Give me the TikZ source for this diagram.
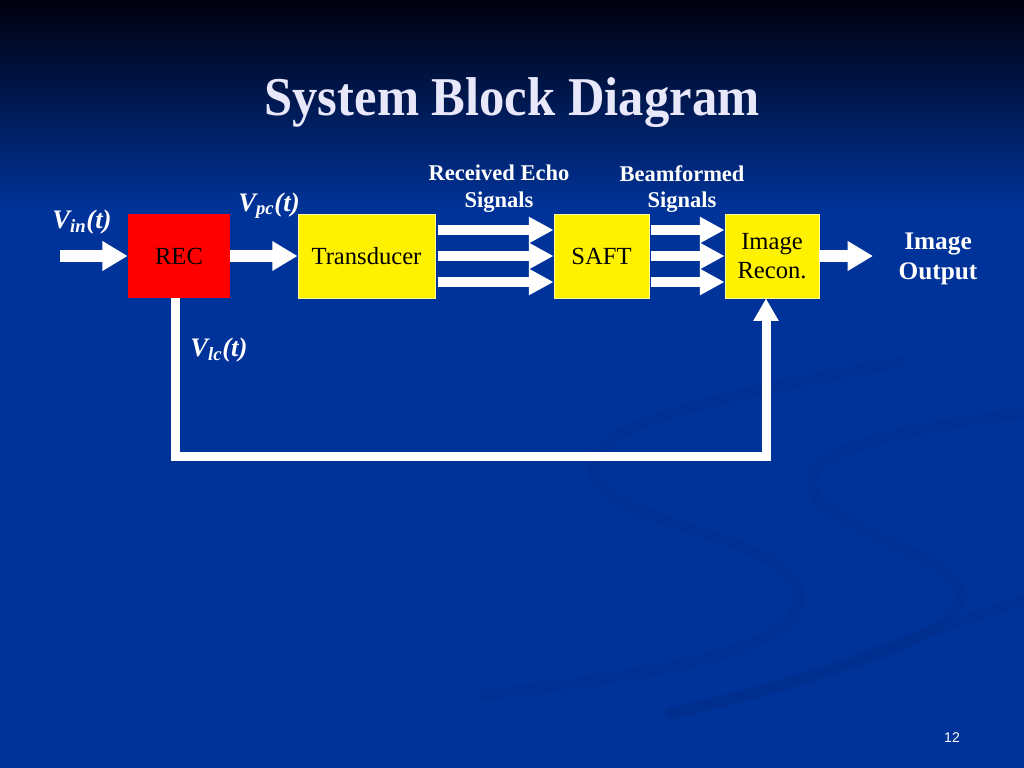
\documentclass[tikz,border=0pt]{standalone}
\usepackage{fontspec}
\setmainfont{Liberation Serif}
\newfontfamily\slidenum{Liberation Sans}
\usetikzlibrary{arrows.meta,calc}
\definecolor{slideblue}{RGB}{0,51,153}
\definecolor{slidetop}{RGB}{0,0,14}
\definecolor{swoosh}{RGB}{0,40,130}
\definecolor{titlewhite}{RGB}{232,232,250}
\tikzset{
     block/.style   = {draw=yellow!40!white, line width=0.6pt, fill=yellow, text=black,
                       minimum height=2.1cm, inner sep=0pt, align=center,
                       font=\fontsize{17.5}{21}\selectfont},
      recblock/.style = {fill=red, text=black, minimum height=2.1cm, inner sep=0pt,
                       font=\fontsize{17.5}{21}\selectfont},
      sig/.style     = {draw=white, line width=8.5pt, -{Triangle[width=20pt,length=18pt]}},
      multisig/.style = {draw=white, line width=7pt, -{Triangle[width=17.5pt,length=17.5pt]}},
      feedback/.style = {draw=white, line width=6.4pt, -{Triangle[width=17pt,length=16pt]}},
      vlabel/.style  = {text=white, anchor=base west, inner sep=0pt,
                       font=\fontsize{19}{22}\selectfont\bfseries\itshape},
      caption/.style = {text=white, align=center, inner sep=0pt,
                       font=\fontsize{16}{19}\selectfont\bfseries},
    }

\begin{document}
\begin{tikzpicture}[x=0.025cm, y=-0.025cm]
        % background
        \fill[slideblue] (0,0) rectangle (1024,768);
        \shade[top color=slidetop, bottom color=slideblue] (0,0) rectangle (1024,210);
        \useasboundingbox (0,0) rectangle (1024,768);
        \begin{scope}[swoosh, line cap=round, line width=8pt, opacity=0.22]
        \draw (900,362) .. controls (700,400) and (560,430) .. (600,485)
              .. controls (640,530) and (800,540) .. (800,600)
              .. controls (790,660) and (600,680) .. (485,695);
        \draw (1024,413) .. controls (900,430) and (790,450) .. (815,495)
              .. controls (850,540) and (970,560) .. (960,600)
              .. controls (940,650) and (780,690) .. (670,712);
        \draw (1024,600) .. controls (900,640) and (780,690) .. (670,715);
        \end{scope}
        % title
        \node (title) [text=titlewhite, font=\fontsize{36}{40}\selectfont\bfseries, yscale=1.08] at (512,103) {System Block Diagram};
        % blocks
        \node [recblock, minimum width=2.55cm] (rec) at (179,256) {REC};
        \node [block, minimum width=3.425cm] (trans) at (366.5,256) {Transducer};
        \node [block, minimum width=2.375cm] (saft) at (601.5,256) {SAFT};
        \node [block, minimum width=2.35cm] (img) at (772,256) {Image\\Recon.};
        \coordinate (vin) at (60,256);
        \coordinate (vout) at (873,256);
        \coordinate (fbbase) at (0,456);
        % labels
        \node [vlabel] (lin) at (52,228) {V\textsubscript{in}(t)};
        \node [vlabel] (lpc) at (238,211) {V\textsubscript{pc}(t)};
        \node [vlabel] (llc) at (190,356) {V\textsubscript{lc}(t)};
        \node [caption] (echo) at (499,189) {Received Echo\\Signals};
        \node [caption] (beam) at (682,189) {Beamformed\\Signals};
        \node [caption, font=\fontsize{18}{21.5}\selectfont\bfseries] (out) at (938,259) {Image\\Output};
        \node [text=white, font=\slidenum\fontsize{10}{11}\selectfont] (num) at (952,738) {12};
        % connectors
        \path
        (vin) edge[sig] (rec.west)
        (rec.east) edge[sig] (trans.west)
        (img.east) edge[sig] (vout);
        \foreach \dy in {0.65cm,0cm,-0.65cm} {
          \draw[multisig] ([yshift=\dy,xshift=2pt]trans.east) -- ([yshift=\dy]saft.west);
          \draw[multisig] ([yshift=\dy,xshift=1pt]saft.east) -- ([yshift=\dy]img.west);
        }
        \draw[feedback] ([xshift=-0.08cm]rec.south) -- ([xshift=-0.08cm]rec.south |- fbbase)
              -| ([xshift=-0.15cm]img.south);
    \end{tikzpicture}
\end{document}
